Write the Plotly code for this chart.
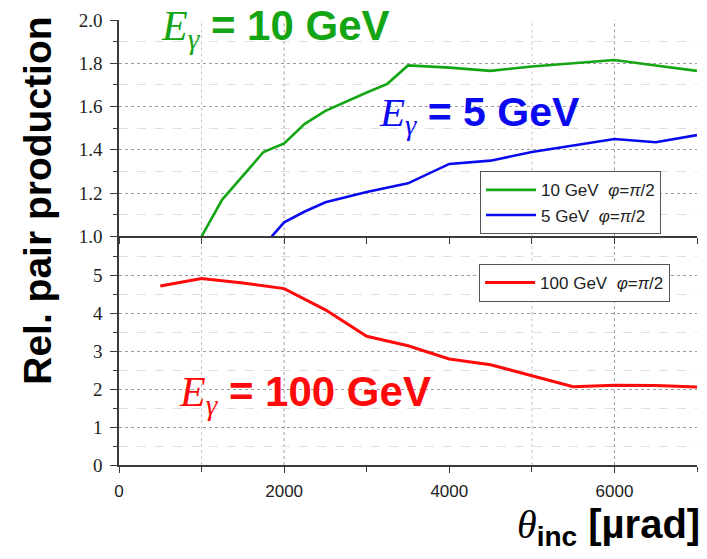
import plotly.graph_objects as go

# Incidence angle (µrad) and relative pair-production yield per photon energy
theta_10 = [1000, 1250, 1750, 2000, 2250, 2500, 3000, 3250, 3500, 4000, 4500, 5000, 5500, 6000, 6500, 7000]
rel_10 = [1.00, 1.17, 1.39, 1.43, 1.52, 1.58, 1.665, 1.705, 1.79, 1.78, 1.765, 1.785, 1.80, 1.815, 1.79, 1.765]

theta_5 = [1850, 2000, 2250, 2500, 3000, 3500, 4000, 4500, 5000, 5500, 6000, 6500, 7000]
rel_5 = [1.00, 1.065, 1.115, 1.158, 1.205, 1.245, 1.335, 1.35, 1.39, 1.42, 1.45, 1.435, 1.468]

theta_100 = [500, 1000, 1500, 2000, 2500, 3000, 3500, 4000, 4500, 5000, 5500, 6000, 6500, 7000]
rel_100 = [4.73, 4.93, 4.81, 4.66, 4.10, 3.40, 3.15, 2.80, 2.65, 2.35, 2.07, 2.11, 2.10, 2.06]

x_range = [0, 7000]
top_range = [1.0, 2.0]
bottom_range = [0, 6.04]
x_tick_major = [0, 2000, 4000, 6000]
vgrid_major = [2000, 6000]
vgrid_minor = [1000, 5000]

GREEN = "#14a514"
BLUE = "#0a0af0"
RED = "#ff0a0a"
AXIS = "#3a3a3a"
SERIF = "Liberation Serif"
SANS = "Liberation Sans"

fig = go.Figure()

fig.add_trace(go.Scatter(x=theta_10, y=rel_10, mode="lines", xaxis="x2", yaxis="y2",
                         line=dict(color=GREEN, width=2.6), legend="legend",
                         name="10 GeV  <i>φ</i>=<i>π</i>/2"))
fig.add_trace(go.Scatter(x=theta_5, y=rel_5, mode="lines", xaxis="x2", yaxis="y2",
                         line=dict(color=BLUE, width=2.6), legend="legend",
                         name="5 GeV  <i>φ</i>=<i>π</i>/2"))
fig.add_trace(go.Scatter(x=theta_100, y=rel_100, mode="lines", xaxis="x", yaxis="y",
                         line=dict(color=RED, width=3), legend="legend2",
                         name="100 GeV  <i>φ</i>=<i>π</i>/2"))

split = 0.5137
grid_major = dict(showgrid=True, gridcolor="#9c9c9c", gridwidth=1, griddash="dot")

fig.update_layout(
    width=707, height=559,
    margin=dict(l=119, r=10, t=12, b=94),
    paper_bgcolor="white", plot_bgcolor="white",
    xaxis=dict(domain=[0, 1], range=x_range, anchor="y",
               tickvals=x_tick_major, ticks="outside", ticklen=6, tickcolor=AXIS,
               showline=True, linecolor=AXIS, linewidth=1.5, showgrid=False, zeroline=False,
               minor=dict(tickvals=[1000, 3000, 5000, 7000], ticks="outside", ticklen=5, tickcolor=AXIS),
               ticklabelstandoff=4,
               tickfont=dict(family=SANS, size=17, color="#222")),
    yaxis=dict(domain=[0, split], range=bottom_range, anchor="x",
               tickvals=[0, 1, 2, 3, 4, 5], ticks="outside", ticklen=7, tickcolor=AXIS,
               showline=True, linecolor=AXIS, linewidth=1.5, zeroline=False, **grid_major,
               minor=dict(tickvals=[0.5, 1.5, 2.5, 3.5, 4.5, 5.5], ticks="outside", ticklen=4,
                          tickcolor=AXIS, showgrid=True, gridcolor="#dedede", griddash="dash"),
               ticklabelstandoff=4,
               tickfont=dict(family=SERIF, size=19, color="#222")),
    xaxis2=dict(domain=[0, 1], range=x_range, anchor="y2", matches="x",
                dtick=1000, ticks="outside", ticklen=6, tickcolor=AXIS, showticklabels=False,
                showline=True, linecolor=AXIS, linewidth=1.5, showgrid=False, zeroline=False),
    yaxis2=dict(domain=[split, 1], range=top_range, anchor="x2",
                tickvals=[1.0, 1.2, 1.4, 1.6, 1.8, 2.0], tickformat=".1f",
                ticks="outside", ticklen=7, tickcolor=AXIS,
                showline=True, linecolor=AXIS, linewidth=1.5, zeroline=False, **grid_major,
                minor=dict(tickvals=[1.1, 1.3, 1.5, 1.7, 1.9], ticks="outside", ticklen=4,
                           tickcolor=AXIS, showgrid=True, gridcolor="#dedede", griddash="dash"),
                ticklabelstandoff=4,
                tickfont=dict(family=SERIF, size=19, color="#222")),
    legend=dict(x=0.6246, y=0.66, xanchor="left", yanchor="top",
                bgcolor="white", bordercolor="#555", borderwidth=1,
                font=dict(family=SANS, size=17, color="#222"),
                itemwidth=50, tracegroupgap=0),
    legend2=dict(x=0.623, y=0.452, xanchor="left", yanchor="top",
                 bgcolor="white", bordercolor="#555", borderwidth=1,
                 font=dict(family=SANS, size=17, color="#222"),
                 itemwidth=50),
)

# Vertical grid lines at selected angles in both panels
shapes = []
for yref in ["y domain", "y2 domain"]:
    xref = "x" if yref == "y domain" else "x2"
    for xv in vgrid_major:
        shapes.append(dict(type="line", xref=xref, yref=yref, x0=xv, x1=xv, y0=0, y1=1,
                           line=dict(color="#9c9c9c", width=1, dash="dot"), layer="below"))
    for xv in vgrid_minor:
        shapes.append(dict(type="line", xref=xref, yref=yref, x0=xv, x1=xv, y0=0, y1=1,
                           line=dict(color="#c4c4c4", width=1, dash="dot"), layer="below"))
fig.update_layout(shapes=shapes)


def energy_label(value):
    return (f'<span style="font-family:{SERIF}"><i>E</i><sub><i>γ</i></sub></span>'
            f'<b> = {value} GeV</b>')


fig.add_annotation(text=energy_label(10), xref="paper", yref="paper", x=0.07, y=0.98,
                   xanchor="left", yanchor="middle", showarrow=False,
                   font=dict(family=SANS, size=42, color=GREEN))
fig.add_annotation(text=energy_label(5), xref="paper", yref="paper", x=0.447, y=0.787,
                   xanchor="left", yanchor="middle", showarrow=False,
                   font=dict(family=SANS, size=41, color=BLUE))
fig.add_annotation(text=energy_label(100), xref="paper", yref="paper", x=0.1, y=0.158,
                   xanchor="left", yanchor="middle", showarrow=False,
                   font=dict(family=SANS, size=42, color=RED))

# Axis titles
fig.add_annotation(text="<b>Rel. pair production</b>", xref="paper", yref="paper",
                   x=-0.14, y=0.594, xanchor="center", yanchor="middle", textangle=-90,
                   showarrow=False, font=dict(family=SANS, size=39, color="black"))
fig.add_annotation(text=(f'<span style="font-family:{SERIF}"><i>θ</i></span>'
                         '<sub><b>inc</b></sub><b> [µrad]</b>'),
                   xref="paper", yref="paper", x=1.008, y=-0.14,
                   xanchor="right", yanchor="middle", showarrow=False,
                   font=dict(family=SANS, size=40, color="black"))

fig.write_html("out.html")
